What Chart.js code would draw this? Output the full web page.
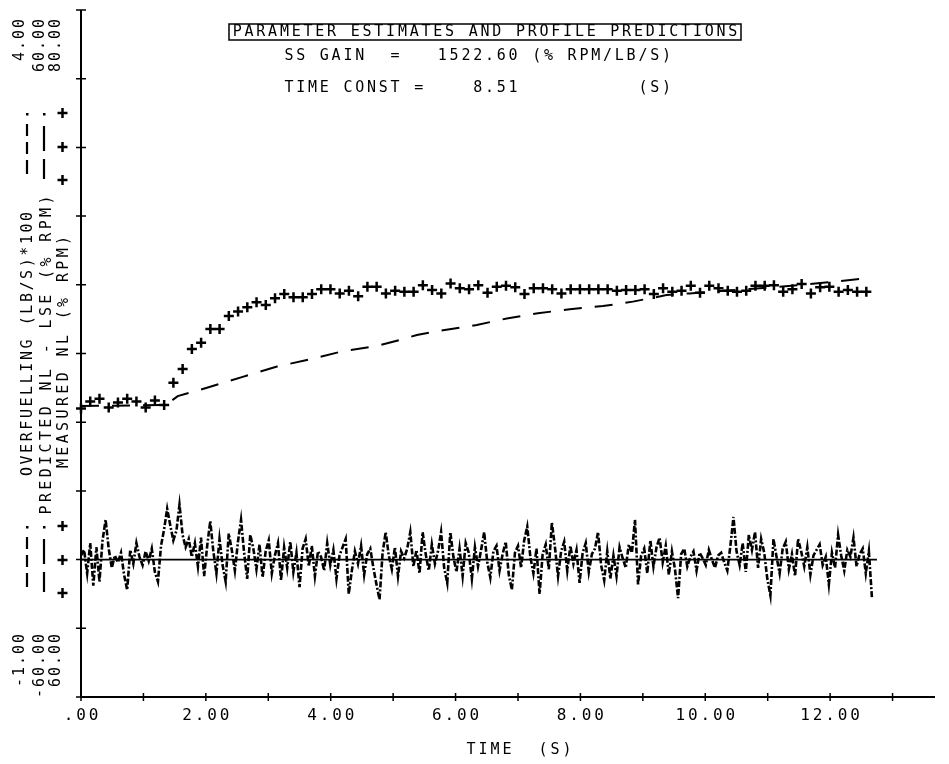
<!DOCTYPE html>
<html>
<head>
<meta charset="utf-8">
<script src="https://cdn.jsdelivr.net/npm/chart.js@4"></script>
<style>
html, body { margin: 0; padding: 0; background: #fff; }
</style>
</head>
<body>
<canvas id="plot" width="949" height="764"></canvas>
<script>
// measured NL (% RPM), one sample every 0.148 s
const measTime = [0, .148, .296, .444, .592, .74, .888, 1.036, 1.184, 1.332, 1.48, 1.628, 1.776, 1.924, 2.072,
  2.22, 2.368, 2.516, 2.664, 2.812, 2.96, 3.108, 3.256, 3.404, 3.552, 3.7, 3.848, 3.996, 4.144, 4.292, 4.44,
  4.588, 4.736, 4.884, 5.032, 5.18, 5.328, 5.476, 5.624, 5.772, 5.92, 6.068, 6.216, 6.364, 6.512, 6.66, 6.808,
  6.956, 7.104, 7.252, 7.4, 7.548, 7.696, 7.844, 7.992, 8.14, 8.288, 8.436, 8.584, 8.732, 8.88, 9.028, 9.176,
  9.324, 9.472, 9.62, 9.768, 9.916, 10.064, 10.212, 10.36, 10.508, 10.656, 10.804, 10.952, 11.1, 11.248,
  11.396, 11.544, 11.692, 11.84, 11.988, 12.136, 12.284, 12.432, 12.58];
const measNL = [68.40, 68.60, 68.68, 68.43, 68.57, 68.68, 68.60, 68.43, 68.63, 68.50,
  69.15, 69.55, 70.13, 70.31, 70.71, 70.71, 71.09, 71.22, 71.35, 71.49,
  71.41, 71.61, 71.73, 71.64, 71.64, 71.73, 71.87, 71.87, 71.75, 71.83,
  71.67, 71.94, 71.94, 71.75, 71.83, 71.80, 71.80, 71.99, 71.85, 71.75,
  72.04, 71.90, 71.87, 71.99, 71.77, 71.94, 71.97, 71.93, 71.73, 71.90,
  71.90, 71.87, 71.75, 71.87, 71.87, 71.87, 71.87, 71.87, 71.83, 71.85,
  71.85, 71.87, 71.73, 71.90, 71.80, 71.83, 71.97, 71.77, 71.97, 71.90,
  71.83, 71.80, 71.83, 71.97, 71.97, 71.99, 71.80, 71.87, 72.02, 71.75,
  71.93, 71.94, 71.80, 71.85, 71.80, 71.80];

// predicted NL (% RPM)
const predTime = [0, 1.36, 1.55, 2.07, 2.59, 3.14, 3.67, 4.20, 4.74, 5.10, 5.38, 5.80, 6.34, 6.82,
  7.32, 7.83, 8.36, 8.84, 9.38, 9.75, 10.71, 11.51, 12.43, 12.63];
const predNL = [68.47, 68.50, 68.76, 69.03, 69.32, 69.62, 69.83, 70.07, 70.22, 70.39, 70.54, 70.68,
  70.83, 71.02, 71.17, 71.29, 71.38, 71.51, 71.70, 71.75, 71.88, 71.99, 72.16, 72.20];

// overfuelling (LB/S)*100, sampled every 0.0493 s from t = 0
const fuelStart = 0;
const fuelStep = 0.0493;
const fuel = [0.03, 0.07, -0.10, 0.12, -0.19, 0.09, -0.16, 0.14, 0.29, 0.08,
  -0.06, 0.03, -0.02, 0.05, -0.11, -0.22, 0.07, -0.03, 0.12, 0.02,
  -0.04, 0.06, -0.01, 0.08, -0.09, -0.16, 0.10, 0.22, 0.37, 0.25,
  0.14, 0.21, 0.40, 0.18, 0.09, 0.15, 0.02, 0.12, -0.05, 0.16,
  -0.12, 0.10, 0.28, 0.06, -0.10, 0.15, -0.04, -0.16, 0.19, 0.07,
  -0.08, 0.13, 0.29, 0.05, -0.14, 0.18, 0.08, -0.07, 0.11, -0.13,
  0.06, 0.14, -0.10, 0.03, 0.12, -0.15, 0.09, -0.06, 0.13, -0.09,
  0.05, -0.20, 0.08, 0.15, -0.05, 0.10, -0.12, 0.06, 0.02, -0.08,
  0.12, -0.04, 0.07, -0.14, 0.03, 0.09, 0.15, -0.25, -0.08, 0.06,
  -0.03, 0.10, -0.11, 0.04, 0.08, -0.06, -0.18, -0.29, 0.05, 0.20,
  0.03, -0.07, 0.09, -0.12, 0.06, 0.01, 0.08, 0.20, -0.05, 0.07,
  -0.10, 0.20, 0.04, -0.08, 0.11, -0.03, 0.06, 0.20, -0.06, -0.17,
  0.20, 0.02, -0.09, 0.08, -0.12, 0.12, 0.05, -0.14, 0.09, -0.05,
  0.07, 0.20, -0.02, -0.13, 0.06, 0.10, -0.08, 0.04, 0.13, -0.11,
  -0.22, 0.05, 0.10, -0.06, 0.14, 0.24, 0.02, -0.10, 0.08, -0.25,
  0.04, 0.11, -0.07, 0.27, 0.09, -0.12, 0.06, 0.13, -0.08, 0.10,
  -0.03, 0.07, -0.17, 0.05, 0.12, -0.09, 0.04, 0.08, 0.20, -0.04,
  -0.15, 0.06, -0.14, 0.03, -0.12, 0.09, 0.01, -0.06, 0.11, 0.05,
  0.29, -0.18, 0.03, 0.08, -0.10, 0.14, -0.05, 0.09, 0.16, -0.02,
  0.10, -0.11, 0.06, -0.07, -0.28, 0.04, 0.08, -0.05, 0.02, 0.06,
  -0.08, 0.05, 0.01, -0.04, 0.07, 0.00, -0.06, 0.03, 0.05, -0.02,
  -0.08, 0.10, 0.31, 0.06, -0.04, 0.12, -0.09, 0.18, 0.07, 0.20,
  -0.06, 0.15, 0.05, -0.14, -0.26, 0.15, 0.02, -0.10, 0.08, 0.13,
  -0.07, 0.04, -0.12, 0.15, 0.06, -0.05, 0.09, -0.11, 0.03, 0.07,
  0.11, -0.04, 0.02, -0.18, 0.05, -0.06, 0.18, 0.03, -0.08, 0.07,
  0.02, 0.16, -0.05, 0.04, 0.08, -0.10, 0.06, -0.28];
const zeroTime = [0, 12.75];
const zeroFuel = [0, 0];

// axes
const xTicks = [0, 1, 2, 3, 4, 5, 6, 7, 8, 9, 10, 11, 12, 13];
const xLabelAt = [0, 2, 4, 6, 8, 10, 12];
const xLabels = ['.00', '2.00', '4.00', '6.00', '8.00', '10.00', '12.00'];
const yTicks = [60, 62, 64, 66, 68, 70, 72, 74, 76, 78, 80];   // on the measured NL scale
const yTopLabels = ['4.00', '60.00', '80.00'];
const yBottomLabels = ['-1.00', '-60.00', '60.00'];
const seriesNames = ['OVERFUELLING (LB/S)*100', 'PREDICTED NL - LSE (% RPM)', 'MEASURED NL (% RPM)'];
const xTitle = 'TIME  (S)';
const titleText = 'PARAMETER ESTIMATES AND PROFILE PREDICTIONS';
const gainLine = 'SS GAIN  =   1522.60 (% RPM/LB/S)';
const constLine = 'TIME CONST =    8.51          (S)';

const FONT = '"DejaVu Sans Mono", "Liberation Mono", monospace';

// draw a string on a fixed character pitch, like the plotter did
function mono(ctx, str, x, y, pitch, align) {
  const w = str.length * pitch;
  let x0 = x;
  if (align === 'center') x0 = x - w / 2;
  if (align === 'right') x0 = x - w;
  ctx.textAlign = 'center';
  ctx.textBaseline = 'middle';
  for (let i = 0; i < str.length; i++) {
    ctx.fillText(str[i], x0 + (i + 0.5) * pitch, y);
  }
}

function monoUp(ctx, str, x, y, pitch, align) {
  ctx.save();
  ctx.translate(x, y);
  ctx.rotate(-Math.PI / 2);
  mono(ctx, str, 0, 0, pitch, align);
  ctx.restore();
}

const plotterFrame = {
  id: 'plotterFrame',
  beforeDatasetsDraw(chart) {
    const { ctx, chartArea: a, scales } = chart;
    ctx.save();
    ctx.strokeStyle = '#000';
    ctx.lineWidth = 2;
    ctx.beginPath();
    ctx.moveTo(a.left, a.top);
    ctx.lineTo(a.left, a.bottom);
    ctx.lineTo(a.right, a.bottom);
    ctx.stroke();
    ctx.lineWidth = 1.5;
    ctx.beginPath();
    xTicks.forEach(v => {
      const px = scales.x.getPixelForValue(v);
      ctx.moveTo(px, a.bottom - 4);
      ctx.lineTo(px, a.bottom + 4);
    });
    yTicks.forEach(v => {
      const py = scales.yM.getPixelForValue(v);
      ctx.moveTo(a.left - 5, py);
      ctx.lineTo(a.left + 5, py);
    });
    ctx.stroke();
    ctx.restore();
  },
  afterDraw(chart) {
    const { ctx, scales } = chart;
    ctx.save();
    ctx.fillStyle = '#000';
    ctx.strokeStyle = '#000';

    // x tick labels and title
    ctx.font = '16px ' + FONT;
    xLabelAt.forEach((v, i) => {
      mono(ctx, xLabels[i], scales.x.getPixelForValue(v), 716, 12.5, 'center');
    });
    ctx.font = '15px ' + FONT;
    mono(ctx, xTitle, 519, 750, 12, 'center');

    // y end labels, three scales side by side
    const labelCols = [20, 40, 56];
    ctx.font = '15px ' + FONT;
    labelCols.forEach((cx, i) => {
      monoUp(ctx, yTopLabels[i], cx, 18, 11, 'right');
      monoUp(ctx, yBottomLabels[i], cx, 633, 11, 'right');
    });

    // series names
    const nameCols = [28, 47, 64];
    const nameMid = [344, 355, 352];
    const namePitch = [11.6, 12.4, 12.4];
    nameCols.forEach((cx, i) => monoUp(ctx, seriesNames[i], cx, nameMid[i], namePitch[i], 'center'));

    // line keys above and below the names
    const keyBlocks = [113, 526];
    keyBlocks.forEach(y0 => {
      ctx.lineWidth = 2.2;
      // overfuelling: dot then dashes
      ctx.fillRect(26, y0, 2.5, 2.5);
      [[11, 23], [29, 41], [47, 61]].forEach(d => {
        ctx.beginPath(); ctx.moveTo(27, y0 + d[0]); ctx.lineTo(27, y0 + d[1]); ctx.stroke();
      });
      // predicted: dot then long dashes
      ctx.fillRect(43, y0, 2.5, 2.5);
      [[13, 38], [46, 66]].forEach(d => {
        ctx.beginPath(); ctx.moveTo(44, y0 + d[0]); ctx.lineTo(44, y0 + d[1]); ctx.stroke();
      });
      // measured: crosses
      ctx.lineWidth = 2.5;
      [0, 34, 67].forEach(d => {
        ctx.beginPath();
        ctx.moveTo(57.5, y0 + d); ctx.lineTo(67.5, y0 + d);
        ctx.moveTo(62.5, y0 + d - 5); ctx.lineTo(62.5, y0 + d + 5);
        ctx.stroke();
      });
    });

    // parameter box, all on the plotter's character grid
    ctx.lineWidth = 1.5;
    ctx.strokeRect(229, 24, 512, 16);
    ctx.font = '15px ' + FONT;
    mono(ctx, titleText, 485, 32, 11.8, 'center');
    mono(ctx, gainLine, 283, 56, 11.8, 'left');
    mono(ctx, constLine, 283, 88, 11.8, 'left');
    ctx.restore();
  }
};

new Chart(document.getElementById('plot').getContext('2d'), {
  type: 'scatter',
  data: {
    datasets: [
      {
        label: seriesNames[0],
        data: fuel.map((v, i) => ({ x: fuelStart + i * fuelStep, y: v })),
        yAxisID: 'yF',
        showLine: true,
        borderColor: '#000',
        borderWidth: 2.6,
        borderDash: [6, 2, 6, 2, 2, 2],
        pointRadius: 0
      },
      {
        label: 'zero',
        data: zeroTime.map((t, i) => ({ x: t, y: zeroFuel[i] })),
        yAxisID: 'yF',
        showLine: true,
        borderColor: '#000',
        borderWidth: 1.6,
        pointRadius: 0
      },
      {
        label: seriesNames[1],
        data: predTime.map((t, i) => ({ x: t, y: predNL[i] })),
        yAxisID: 'yM',
        showLine: true,
        borderColor: '#000',
        borderWidth: 2,
        borderDash: [18, 13],
        pointRadius: 0
      },
      {
        label: seriesNames[2],
        data: measTime.map((t, i) => ({ x: t, y: measNL[i] })),
        yAxisID: 'yM',
        showLine: false,
        pointStyle: 'cross',
        pointRadius: 5,
        borderColor: '#000',
        borderWidth: 2.5,
        clip: 8
      }
    ]
  },
  options: {
    responsive: false,
    devicePixelRatio: 1,
    animation: false,
    events: [],
    layout: { padding: { left: 81, right: 14, top: 10, bottom: 67 } },
    plugins: { legend: { display: false }, tooltip: { enabled: false } },
    scales: {
      x: { type: 'linear', min: 0, max: 13.68, display: false },
      yF: { type: 'linear', min: -1, max: 4, display: false },
      yP: { type: 'linear', min: -60, max: 60, display: false },
      yM: { type: 'linear', min: 60, max: 80, display: false }
    }
  },
  plugins: [plotterFrame]
});
</script>
</body>
</html>
